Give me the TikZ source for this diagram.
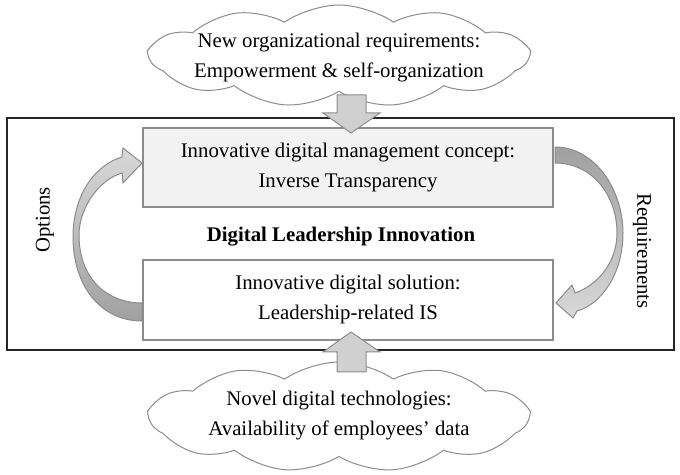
\documentclass[tikz,border=0pt]{standalone}
\usepackage{fontspec}
\setmainfont{Liberation Serif}
\usetikzlibrary{shapes.symbols}
\definecolor{boxgray}{HTML}{F2F2F2}
\definecolor{linegray}{HTML}{8C8C8C}
\definecolor{arrowgray}{HTML}{D0D0D0}
\definecolor{lightarrow}{HTML}{D8D8D8}
\definecolor{darkarrow}{HTML}{A0A0A0}
\begin{document}
\begin{tikzpicture}[x=0.5pt,y=-0.5pt,
    every node/.style={font=\fontsize{10.4}{15}\selectfont, align=center},
    conceptbox/.style={draw=linegray, line width=0.6pt, minimum width=205pt,
      minimum height=39.5pt, inner sep=0pt},
    thought/.style={cloud, cloud puffs=11, cloud puff arc=70, cloud ignores aspect,
      draw=linegray, fill=white, line width=0.5pt, inner sep=0pt,
      minimum width=189pt},
    blockarrow/.style={draw=linegray, fill=arrowgray, line width=0.5pt},
    bentarrow/.style={draw=linegray, line width=0.5pt}]
  \useasboundingbox (0,0) rectangle (680,475);
  % outer frame
  \draw[line width=0.9pt, black!85] (7,118) rectangle (674,350);
  % clouds
  \node[thought, minimum height=51pt] (needs) at (339,56) {};
  \node (needstext) at (339,58) {New organizational requirements:\\Empowerment \& self-organization};
  \node[thought, minimum height=55pt] (techs) at (339,417) {};
  \node (techstext) at (339,416) {Novel digital technologies:\\Availability of employees' data};
  % boxes
  \node[conceptbox, fill=boxgray] (concept) at (348,167.5)
    {Innovative digital management concept:\\Inverse Transparency};
  \node[conceptbox, fill=white, minimum height=40pt] (solution) at (348,300)
    {Innovative digital solution:\\Leadership-related IS};
  \node[font=\bfseries\fontsize{10.4}{12}\selectfont] (title) at (341,237)
    {Digital Leadership Innovation};
  \node[rotate=90] (options) at (45,220) {Options};
  \node[rotate=-90] (reqs) at (642,251) {Requirements};
  % block arrows
  \coordinate (downtip) at (351,133);
  \coordinate (uptip) at (351,332);
  \draw[blockarrow] (downtip) -- ++(29,-20) -- ++(-14,0) -- ++(0,-18)
    -- ++(-29,0) -- ++(0,18) -- ++(-14,0) -- cycle;
  \draw[blockarrow] (uptip) -- ++(29,20) -- ++(-14,0) -- ++(0,20)
    -- ++(-29,0) -- ++(0,-20) -- ++(-14,0) -- cycle;
  % curved arrows
  \shadedraw[bentarrow, top color=lightarrow, bottom color=darkarrow]
    (142,303) -- (142,321) .. controls (100,321) and (73,285) .. (73,237)
    .. controls (73,195) and (95,165) .. (122,157) -- (123,148) -- (142,163)
    -- (123,183) -- (122,173) .. controls (98,180) and (78,210) .. (79,237)
    .. controls (80,280) and (108,303) .. (142,303) -- cycle;
  \shadedraw[bentarrow, top color=darkarrow, bottom color=lightarrow]
    (555,147) .. controls (595,147) and (623,190) .. (623,233)
    .. controls (623,275) and (600,305) .. (577,311) -- (573,318) -- (556,303)
    -- (572,285) -- (575,293) .. controls (598,285) and (617,262) .. (617,233)
    .. controls (617,195) and (592,163) .. (555,163) -- cycle;
\end{tikzpicture}
\end{document}
